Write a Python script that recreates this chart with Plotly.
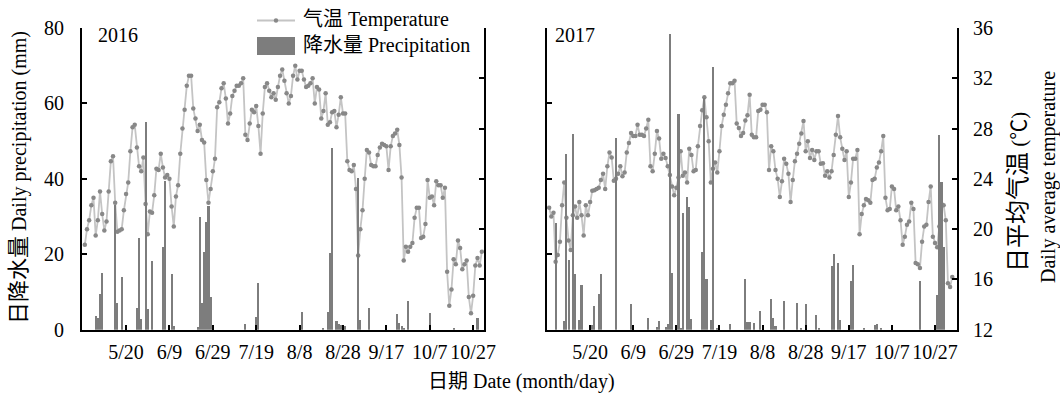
import plotly.graph_objects as go

# ---------------- data ----------------
tick_days = [20, 40, 60, 80, 100, 120, 140, 160, 180]
tick_labels = ["5/20", "6/9", "6/29", "7/19", "8/8", "8/28", "9/17", "10/7", "10/27"]

# daily mean temperature (°C), day 1 = May 1
temp_2016 = [
    18.75, 20.0, 20.7, 21.9, 22.5, 19.5, 20.7, 23.0, 21.2, 19.9,
    20.6, 23.0, 25.4, 25.8, 22.1, 19.8, 19.9, 20.0, 21.5, 22.8,
    23.7, 26.2, 28.1, 28.3, 26.5, 25.0, 24.6, 25.7, 22.0, 19.6,
    21.4, 21.3, 22.7, 24.8, 24.7, 26.0, 24.9, 24.1, 24.3, 24.0,
    21.8, 20.2, 22.6, 23.5, 26.0, 28.0, 29.5, 31.4, 32.2, 32.2,
    29.6, 28.8, 27.8, 28.3, 27.1, 26.9, 23.9, 22.1, 23.2, 24.6,
    25.6, 29.7, 30.1, 31.2, 31.6, 30.4, 28.4, 29.2, 30.6, 31.0,
    31.4, 31.4, 31.6, 32.0, 27.5, 27.1, 28.4, 29.5, 29.3, 29.8,
    28.2, 26.0, 29.2, 31.3, 31.6, 31.0, 30.5, 30.8, 30.3, 31.3,
    32.2, 32.7, 31.8, 30.8, 30.0, 30.6, 32.2, 33.0, 31.9, 32.6,
    32.6, 31.9, 31.3, 31.4, 31.6, 32.0, 30.0, 31.3, 31.1, 28.8,
    29.4, 30.8, 28.3, 28.5, 29.3, 29.4, 28.1, 29.1, 30.5, 29.2,
    29.2, 25.4, 24.7, 24.6, 25.1, 23.2, 17.9, 20.0, 21.5, 24.0,
    26.3, 26.1, 25.1, 25.0, 25.0, 25.9, 26.5, 26.8, 26.7, 26.6,
    24.7, 26.6, 27.4, 27.6, 27.9, 26.7, 24.1, 17.5, 18.6, 18.2,
    18.6, 18.9, 20.9, 21.7, 21.7, 19.3, 19.4, 20.4, 23.9, 22.5,
    22.6, 21.9, 23.8, 23.5, 23.5, 22.5, 23.3, 16.6, 13.9, 15.2,
    17.6, 17.2, 19.1, 18.5, 16.8, 17.2, 17.5, 14.6, 13.3, 14.7,
    17.1, 17.7, 17.1, 18.2,
]
temp_2017 = [
    21.7, 21.0, 21.3, 17.4, 17.95, 19.0, 21.9, 23.7, 20.9, 19.1,
    18.35, 21.1, 21.8, 20.9, 22.15, 21.1, 19.5, 21.9, 21.1, 22.15,
    23.05, 23.1, 23.2, 23.3, 23.9, 24.4, 23.2, 25.0, 26.1, 25.7,
    23.85, 24.0, 24.4, 25.0, 24.2, 24.5, 26.1, 26.85, 27.65, 27.4,
    27.4, 28.3, 27.5, 27.5, 27.4, 28.0, 28.7, 25.0, 24.6, 26.0,
    27.8, 27.2, 25.6, 26.0, 25.65, 25.0, 24.3, 23.4, 22.7, 23.3,
    24.1, 26.2, 24.25, 24.5, 23.7, 26.4, 25.9, 24.6, 24.7, 26.6,
    28.2, 29.45, 30.5, 28.9, 27.0, 23.7, 24.8, 25.3, 24.5, 26.2,
    28.2, 29.1, 29.9, 30.8, 31.6, 31.6, 31.8, 28.4, 28.05, 27.4,
    27.65, 28.65, 29.05, 30.7, 27.5, 27.3, 27.3, 29.4, 29.5, 29.9,
    29.9, 29.3, 24.7, 26.6, 26.2, 24.7, 24.0, 22.55, 23.8, 25.6,
    25.2, 24.4, 22.15, 23.9, 25.4, 26.0, 26.8, 27.6, 28.6, 26.2,
    27.0, 25.65, 26.3, 25.5, 26.2, 26.2, 25.2, 25.25, 24.25, 24.6,
    24.1, 24.6, 25.9, 27.5, 29.0, 27.3, 26.4, 25.5, 26.2, 22.55,
    23.7, 25.6, 25.6, 26.3, 19.6, 21.2, 21.9, 22.4, 22.3, 22.1,
    23.9, 24.0, 24.9, 25.3, 26.2, 27.4, 22.5, 21.5, 21.6, 23.4,
    23.2, 21.5, 21.8, 20.7, 18.75, 19.4, 20.35, 20.6, 22.1, 21.6,
    17.3, 17.2, 16.9, 19.0, 20.2, 20.35, 22.15, 23.4, 19.4, 18.9,
    18.55, 20.2, 22.0, 21.9, 20.7, 15.7, 15.4, 16.2,
]
days_2016 = list(range(1, len(temp_2016) + 1))
days_2017 = list(range(1, len(temp_2017) + 1))

# daily precipitation (mm): day number and amount
rain_days_2016 = [6, 7, 8, 9, 15, 16, 18, 25, 26, 27, 29, 30, 32, 37, 38, 41, 42,
                  53, 54, 55, 56, 57, 58, 59, 60, 75, 80, 81, 101, 111, 113, 114,
                  115, 117, 118, 119, 121, 127, 128, 132, 145, 146, 147, 148, 150,
                  160, 171, 182]
rain_2016 = [3.6, 3.0, 9.5, 15.1, 33.0, 7.0, 13.9, 5.7, 24.4, 2.8, 55.2, 5.5, 18.2,
             22.0, 39.3, 14.8, 1.0, 0.6, 30.0, 7.2, 20.7, 28.5, 32.7, 8.6, 1.0, 1.5,
             3.5, 12.3, 4.6, 0.4, 4.6, 20.3, 48.3, 2.4, 1.5, 1.2, 1.0, 40.2, 2.6,
             5.8, 4.2, 1.9, 1.0, 0.5, 7.7, 4.3, 0.5, 3.2]
rain_days_2017 = [4, 8, 9, 10, 12, 13, 15, 16, 20, 21, 22, 24, 25, 32, 39, 40, 47,
                  51, 52, 55, 56, 57, 58, 61, 62, 63, 65, 66, 67, 72, 73, 74, 76,
                  77, 79, 80, 85, 92, 93, 94, 96, 99, 104, 105, 106, 110, 116, 118,
                  120, 125, 126, 132, 133, 135, 136, 141, 142, 147, 152, 153, 155,
                  173, 181, 182, 183, 184]
rain_2017 = [28.3, 2.2, 46.5, 18.6, 51.9, 14.8, 2.5, 11.8, 1.2, 1.3, 6.2, 9.6, 14.9,
             50.9, 6.9, 1.2, 3.1, 0.7, 2.2, 0.7, 1.6, 78.3, 15.0, 57.3, 0.4, 31.0,
             35.1, 32.6, 2.9, 20.6, 61.5, 13.5, 2.5, 69.6, 0.5, 1.0, 1.5, 13.4, 2.0,
             2.0, 1.9, 5.0, 8.1, 3.1, 0.9, 7.5, 7.2, 0.4, 6.7, 3.8, 0.5, 16.9, 20.2,
             17.7, 2.5, 12.8, 17.1, 0.3, 1.3, 1.4, 0.5, 12.8, 9.1, 51.6, 39.2, 21.8]

legend_labels = ["气温 Temperature", "降水量 Precipitation"]

# ---------------- styling ----------------
W, H = 1060, 396
FONT = "Liberation Serif, Times New Roman, Noto Sans CJK SC, serif"
BAR_C = "#7d7d7d"
LINE_C = "#c4c4c4"
MARK_C = "#888888"


def fx(p):
    return p / W


def fy(p):
    return 1 - p / H


fig = go.Figure()

fig.add_trace(go.Scatter(x=days_2016, y=temp_2016, xaxis="x", yaxis="y",
                         mode="lines+markers", name=legend_labels[0],
                         line=dict(color=LINE_C, width=1.8),
                         marker=dict(color=MARK_C, size=4.5)))
fig.add_trace(go.Bar(x=rain_days_2016, y=rain_2016, xaxis="x", yaxis="y2",
                     width=0.95, marker=dict(color=BAR_C, line=dict(width=0)),
                     name=legend_labels[1]))
fig.add_trace(go.Scatter(x=days_2017, y=temp_2017, xaxis="x2", yaxis="y3",
                         mode="lines+markers", name=legend_labels[0],
                         line=dict(color=LINE_C, width=1.8),
                         marker=dict(color=MARK_C, size=4.5)))
fig.add_trace(go.Bar(x=rain_days_2017, y=rain_2017, xaxis="x2", yaxis="y4",
                     width=0.95, marker=dict(color=BAR_C, line=dict(width=0)),
                     name=legend_labels[1]))

ydom = [fy(329.7), fy(28)]
common_axis = dict(showline=True, linecolor="black", linewidth=2, ticks="inside",
                   ticklen=5, tickwidth=2, tickcolor="black", showgrid=False,
                   zeroline=False, tickfont=dict(family=FONT, size=20, color="black"))

xcommon = dict(common_axis, tickmode="array", tickvals=tick_days, ticktext=tick_labels,
               ticklabelstandoff=3)

# legend keys drawn in paper coordinates
legend_shapes = [
    dict(type="line", x0=fx(257), x1=fx(295), y0=fy(20.5), y1=fy(20.5),
         line=dict(color=LINE_C, width=2)),
    dict(type="circle", x0=fx(273.8), x1=fx(278.2), y0=fy(22.7), y1=fy(18.3),
         fillcolor=MARK_C, line=dict(width=0)),
    dict(type="rect", x0=fx(257), x1=fx(295), y0=fy(55), y1=fy(37),
         fillcolor=BAR_C, line=dict(width=0)),
]
for s in legend_shapes:
    s.update(xref="paper", yref="paper", layer="above")

fig.update_layout(
    width=W, height=H, autosize=False,
    margin=dict(l=0, r=0, t=0, b=0, pad=0, autoexpand=False),
    paper_bgcolor="white", plot_bgcolor="rgba(0,0,0,0)",
    font=dict(family=FONT, size=20, color="black"),
    bargap=0,
    showlegend=False,
    xaxis=dict(xcommon, domain=[fx(82), fx(484)], range=[-0.3, 185], anchor="y"),
    xaxis2=dict(xcommon, domain=[fx(547), fx(957)], range=[0, 190.2], anchor="y3"),
    yaxis=dict(common_axis, domain=ydom, range=[12, 36], dtick=4, tick0=12,
               side="right", anchor="x", showticklabels=False),
    yaxis2=dict(common_axis, range=[0, 80], dtick=20, tick0=0, side="left",
                overlaying="y", anchor="x", ticklabelstandoff=12),
    yaxis3=dict(common_axis, domain=ydom, range=[12, 36], dtick=4, tick0=12,
                side="right", anchor="x2", ticklabelstandoff=10),
    yaxis4=dict(common_axis, range=[0, 80], dtick=20, tick0=0, side="left",
                overlaying="y3", anchor="x2", showticklabels=False),
    shapes=legend_shapes,
)

annots = [
    dict(text="2016", x=fx(96), y=fy(35), xanchor="left", yanchor="middle", font=dict(size=20)),
    dict(text="2017", x=fx(553), y=fy(35), xanchor="left", yanchor="middle", font=dict(size=20)),
    dict(text=legend_labels[0], x=fx(301), y=fy(19), xanchor="left", yanchor="middle",
         font=dict(size=20)),
    dict(text=legend_labels[1], x=fx(301), y=fy(45), xanchor="left", yanchor="middle",
         font=dict(size=20)),
    dict(text='<span style="font-size:22px">日降水量</span> Daily precipitation (mm)',
         x=fx(18), y=fy(178), textangle=-90,
         xanchor="center", yanchor="middle", font=dict(size=20)),
    dict(text='<span style="font-size:24px">日平均气温</span> (℃)', x=fx(1018), y=fy(192),
         textangle=-90, xanchor="center", yanchor="middle", font=dict(size=21)),
    dict(text="Daily average temperature", x=fx(1048), y=fy(177), textangle=-90,
         xanchor="center", yanchor="middle", font=dict(size=20)),
    dict(text="日期 Date (month/day)", x=fx(521), y=fy(381), xanchor="center",
         yanchor="middle", font=dict(size=20)),
]
for a in annots:
    a.update(xref="paper", yref="paper", showarrow=False)
    a["font"] = dict(family=FONT, color="black", **a["font"])
fig.update_layout(annotations=annots)

fig.write_html("out.html")
